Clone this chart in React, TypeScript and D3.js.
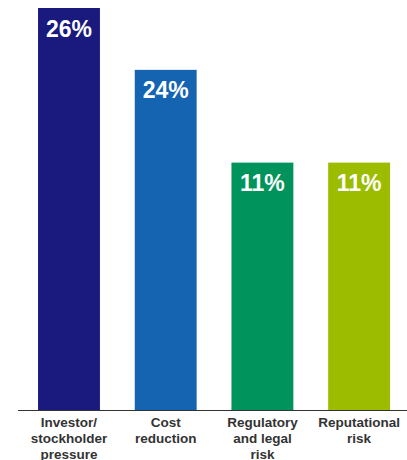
import React from "react";
import * as d3 from "d3";

const categories: string[][] = [
  ["Investor/", "stockholder", "pressure"],
  ["Cost", "reduction"],
  ["Regulatory", "and legal", "risk"],
  ["Reputational", "risk"],
];
const labels = ["26%", "24%", "11%", "11%"];
// bar lengths as drawn in the reference (not proportional to labels)
const barValues = [26, 22, 16, 16];
const colors = ["#19197e", "#1464b1", "#00935b", "#9cbc00"];

const W = 407;
const H = 460;

export default function App() {
  const x = d3
    .scaleBand<number>()
    .domain(d3.range(categories.length))
    .range([18.7, 409.4])
    .paddingInner(0.36)
    .paddingOuter(0.2);
  const y = d3.scaleLinear().domain([0, 26]).range([410, 8]);
  const font = "'Liberation Sans', Arial, Helvetica, sans-serif";
  return (
    <svg
      width={W}
      height={H}
      style={{ position: "absolute", left: 0, top: 0, background: "#fff" }}
      fontFamily={font}
    >
      {barValues.map((v, i) => {
        const cx = (x(i) as number) + x.bandwidth() / 2;
        return (
          <g key={i}>
            <rect
              x={x(i)}
              y={y(v)}
              width={x.bandwidth()}
              height={y(0) - y(v)}
              fill={colors[i]}
            />
            <text
              x={cx}
              y={y(v) + 28.5}
              textAnchor="middle"
              fill="#fff"
              fontWeight="bold"
              fontSize={23}
            >
              {labels[i]}
            </text>
            <text
              x={cx}
              y={427}
              textAnchor="middle"
              fill="#333"
              fontWeight="bold"
              fontSize={13.5}
            >
              {categories[i].map((line, j) => (
                <tspan key={j} x={cx} dy={j === 0 ? 0 : 16}>
                  {line}
                </tspan>
              ))}
            </text>
          </g>
        );
      })}
      <line x1={18} x2={407} y1={410.5} y2={410.5} stroke="#333" strokeWidth={1} />
    </svg>
  );
}
